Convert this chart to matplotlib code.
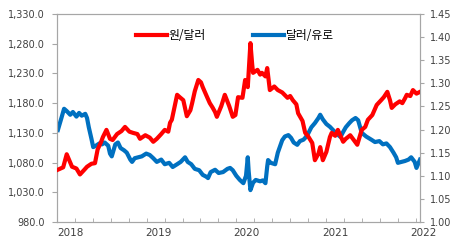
import numpy as np
import matplotlib
matplotlib.use("Agg")
import matplotlib.pyplot as plt

# 원/달러 (좌축) - 연도 소수 표기
krw_t = [2018.01, 2018.07, 2018.11, 2018.15, 2018.17, 2018.22, 2018.26, 2018.31, 2018.34, 2018.39,
         2018.43, 2018.46, 2018.50, 2018.52, 2018.56, 2018.60, 2018.63, 2018.68, 2018.73, 2018.77,
         2018.82, 2018.86, 2018.91, 2018.94, 2019.00, 2019.05, 2019.09, 2019.13, 2019.18, 2019.22,
         2019.26, 2019.28, 2019.30, 2019.34, 2019.36, 2019.39, 2019.43, 2019.47, 2019.51, 2019.53,
         2019.56, 2019.60, 2019.63, 2019.65, 2019.70, 2019.73, 2019.76, 2019.79, 2019.81, 2019.86,
         2019.90, 2019.95, 2019.99, 2020.02, 2020.05, 2020.10, 2020.13, 2020.16, 2020.19, 2020.21,
         2020.22, 2020.27, 2020.30, 2020.32, 2020.36, 2020.38, 2020.41, 2020.46, 2020.50, 2020.55,
         2020.61, 2020.64, 2020.67, 2020.71, 2020.73, 2020.78, 2020.81, 2020.84, 2020.89, 2020.92,
         2020.96, 2020.98, 2021.01, 2021.05, 2021.09, 2021.11, 2021.15, 2021.18, 2021.24, 2021.27,
         2021.32, 2021.36, 2021.40, 2021.43, 2021.45, 2021.49, 2021.52, 2021.57, 2021.62, 2021.67,
         2021.70, 2021.74, 2021.77, 2021.79, 2021.83, 2021.85, 2021.88, 2021.91, 2021.94, 2021.96,
         2022.00, 2022.03, 2022.07, 2022.11]
krw = [1068, 1072, 1094, 1080, 1073, 1070, 1060, 1068, 1073, 1078,
       1079, 1102, 1115, 1123, 1135, 1120, 1118, 1128, 1133, 1140,
       1132, 1130, 1128, 1120, 1126, 1122, 1115, 1120, 1128, 1135,
       1132, 1147, 1152, 1180, 1194, 1190, 1185, 1158, 1168, 1180,
       1200, 1219, 1215, 1207, 1190, 1180, 1173, 1165, 1157, 1175,
       1194, 1175, 1157, 1160, 1190, 1189, 1219, 1207, 1281, 1245,
       1231, 1236, 1228, 1231, 1225, 1239, 1202, 1208, 1202, 1198,
       1189, 1192, 1185, 1178, 1163, 1150, 1130, 1125, 1113, 1084,
       1095, 1106, 1084, 1098, 1123, 1130, 1125, 1135, 1115, 1120,
       1126, 1118, 1110, 1125, 1135, 1140, 1152, 1160, 1177, 1185,
       1190, 1199, 1185, 1172, 1178, 1180, 1183, 1180, 1188, 1194,
       1192, 1202, 1196, 1199]

# 달러/유로 (우축)
eur_t = [2018.01, 2018.05, 2018.08, 2018.11, 2018.15, 2018.18, 2018.22, 2018.25, 2018.28, 2018.32,
         2018.34, 2018.36, 2018.39, 2018.41, 2018.44, 2018.48, 2018.51, 2018.54, 2018.58, 2018.60,
         2018.62, 2018.66, 2018.69, 2018.72, 2018.76, 2018.79, 2018.83, 2018.85, 2018.88, 2018.92,
         2018.96, 2019.01, 2019.05, 2019.09, 2019.13, 2019.18, 2019.22, 2019.27, 2019.31, 2019.36,
         2019.40, 2019.45, 2019.48, 2019.52, 2019.56, 2019.61, 2019.65, 2019.69, 2019.71, 2019.74,
         2019.79, 2019.83, 2019.88, 2019.93, 2019.96, 2019.99, 2020.03, 2020.07, 2020.11, 2020.14,
         2020.16, 2020.17, 2020.19, 2020.22, 2020.25, 2020.30, 2020.33, 2020.36, 2020.38, 2020.39,
         2020.42, 2020.47, 2020.50, 2020.55, 2020.58, 2020.62, 2020.65, 2020.68, 2020.72, 2020.75,
         2020.79, 2020.81, 2020.84, 2020.88, 2020.92, 2020.96, 2020.98, 2021.01, 2021.05, 2021.09,
         2021.13, 2021.16, 2021.21, 2021.24, 2021.27, 2021.31, 2021.34, 2021.38, 2021.41, 2021.45,
         2021.50, 2021.56, 2021.60, 2021.65, 2021.69, 2021.73, 2021.77, 2021.81, 2021.84, 2021.86,
         2021.90, 2021.94, 2021.98, 2022.01, 2022.05, 2022.07, 2022.11]
eur = [1.199, 1.225, 1.245, 1.240, 1.232, 1.238, 1.228, 1.236, 1.230, 1.234,
       1.225, 1.205, 1.180, 1.162, 1.165, 1.170, 1.168, 1.172, 1.165, 1.148,
       1.142, 1.168, 1.172, 1.160, 1.155, 1.150, 1.135, 1.130, 1.138, 1.140,
       1.142, 1.148, 1.145, 1.138, 1.130, 1.135, 1.125, 1.128, 1.119, 1.125,
       1.130, 1.140, 1.130, 1.125, 1.115, 1.112, 1.102, 1.098, 1.095, 1.108,
       1.113, 1.106, 1.108, 1.115, 1.117, 1.112, 1.100, 1.091, 1.084, 1.100,
       1.140, 1.110, 1.069, 1.085, 1.091, 1.088, 1.090, 1.084, 1.120, 1.134,
       1.128, 1.125, 1.150, 1.177, 1.185, 1.188, 1.182, 1.172, 1.167, 1.175,
       1.178, 1.182, 1.190, 1.205, 1.214, 1.225, 1.232, 1.222, 1.212, 1.206,
       1.198, 1.192, 1.184, 1.195, 1.205, 1.214, 1.220, 1.225, 1.220, 1.193,
       1.185, 1.178, 1.173, 1.175, 1.168, 1.170, 1.162, 1.150, 1.140, 1.128,
       1.130, 1.132, 1.135, 1.140, 1.130, 1.117, 1.135]

years = [2018, 2019, 2020, 2021, 2022]
left_ticks = [980, 1030, 1080, 1130, 1180, 1230, 1280, 1330]
right_ticks = [1.00, 1.05, 1.10, 1.15, 1.20, 1.25, 1.30, 1.35, 1.40, 1.45]

plt.rcParams['font.family'] = ['DejaVu Sans', 'Noto Sans CJK KR']

fig = plt.figure(figsize=(4.56, 2.4), dpi=100)
ax = fig.add_axes([57/456, 18/240, 363/456, 208/240])
ax2 = ax.twinx()

l1, = ax.plot(krw_t, krw, color='#FF0000', lw=3.0, label='원/달러', zorder=3)
l2, = ax2.plot(eur_t, eur, color='#0070C0', lw=3.0, label='달러/유로', zorder=2)

ax.set_xlim(2018.0, 2022.11)
ax.set_ylim(980, 1330)
ax2.set_ylim(1.00, 1.45)

grey = '#A6A6A6'
for a in (ax, ax2):
    for s in a.spines.values():
        s.set_color(grey)
        s.set_linewidth(0.8)

ax.set_yticks(left_ticks)
ax.set_yticklabels([f"{v:,.1f}" for v in left_ticks])
ax2.set_yticks(right_ticks)
ax2.set_yticklabels([f"{v:.2f}" for v in right_ticks])
ax.tick_params(axis='y', length=3.6, color=grey, labelsize=7, labelcolor='#404040', pad=5)
ax2.tick_params(axis='y', length=3, color=grey, labelsize=7, labelcolor='#404040', pad=4)

ax.set_xticks(years)
ax.set_xticklabels([str(y) for y in years])
for lab in ax.get_xticklabels():
    lab.set_horizontalalignment('left')
ax.set_xticks([2018 + k * 0.203 for k in range(21)], minor=True)
ax.tick_params(axis='x', which='major', length=0, labelsize=7.5, labelcolor='#404040', pad=4)
ax.tick_params(axis='x', which='minor', direction='in', length=3, color=grey)

ax.set_zorder(ax2.get_zorder() + 1)
ax.patch.set_visible(False)

ax.legend(handles=[l1, l2], loc='center', bbox_to_anchor=(0.49, 0.895), ncol=2,
          frameon=False, handlelength=2.6, handletextpad=0.15,
          columnspacing=4.0, prop={'family': ['Noto Sans CJK KR'], 'size': 8.5})

fig.savefig("out.png", dpi=100)
